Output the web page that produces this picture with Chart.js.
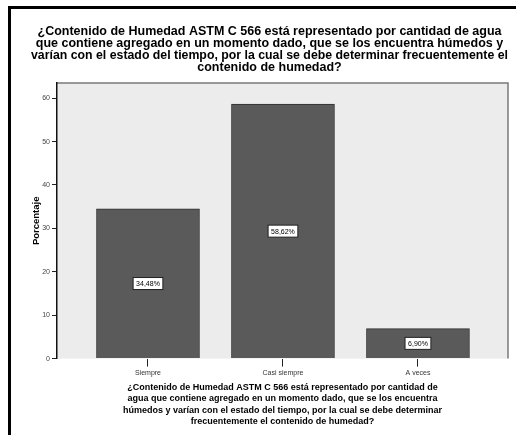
<!DOCTYPE html>
<html>
<head>
<meta charset="utf-8">
<script src="https://cdn.jsdelivr.net/npm/chart.js@4/dist/chart.umd.min.js"></script>
<style>
  body { margin: 0; background: #fff; }
  #wrap { position: relative; width: 516px; height: 435px; overflow: hidden; }
  #frame { position: absolute; left: 8px; top: 6px; width: 530px; height: 450px;
           border-left: 3px solid #000; border-top: 3px solid #000; }
  canvas { position: absolute; left: 0; top: 0; }
</style>
</head>
<body>
<div id="wrap">
  <div id="frame"></div>
  <canvas id="myChart" width="516" height="435"></canvas>
</div>
<script>
// data
const categories = ['Siempre', 'Casi siempre', 'A veces'];
const percentages = [34.48, 58.62, 6.90];
const barLabels = ['34,48%', '58,62%', '6,90%'];
const yTicks = [0, 10, 20, 30, 40, 50, 60];

const titleLines = [
  '¿Contenido de Humedad ASTM C 566 está representado por cantidad de agua',
  'que contiene agregado en un momento dado, que se los encuentra húmedos y',
  'varían con el estado del tiempo, por la cual se debe determinar frecuentemente el',
  'contenido de humedad?'
];
const xTitleLines = [
  '¿Contenido de Humedad ASTM C 566 está representado por cantidad de',
  'agua que contiene agregado en un momento dado, que se los encuentra',
  'húmedos y varían con el estado del tiempo, por la cual se debe determinar',
  'frecuentemente el contenido de humedad?'
];

const plotBg = {
  id: 'plotBg',
  beforeDraw(chart) {
    const a = chart.chartArea, c = chart.ctx;
    c.save();
    c.fillStyle = '#ececec';
    c.fillRect(a.left, a.top, a.right - a.left, a.bottom - a.top);
    c.strokeStyle = '#7a7a7a';
    c.lineWidth = 1.5;
    c.beginPath();
    c.moveTo(a.left, a.top);
    c.lineTo(a.right, a.top);
    c.lineTo(a.right, a.bottom);
    c.stroke();
    c.restore();
  }
};

const boxLabels = {
  id: 'boxLabels',
  afterDatasetsDraw(chart) {
    const c = chart.ctx;
    const meta = chart.getDatasetMeta(0);
    c.save();
    c.font = '7px "Liberation Sans", Arial, sans-serif';
    c.textAlign = 'center';
    c.textBaseline = 'middle';
    meta.data.forEach((bar, i) => {
      const y = (bar.y + bar.base) / 2;
      const w = c.measureText(barLabels[i]).width + 6;
      c.fillStyle = '#fff';
      c.fillRect(bar.x - w / 2, y - 6, w, 12);
      c.strokeStyle = '#222';
      c.lineWidth = 1;
      c.strokeRect(bar.x - w / 2, y - 6, w, 12);
      c.fillStyle = '#000';
      c.fillText(barLabels[i], bar.x, y + 0.5);
    });
    c.restore();
  }
};

let ctx = document.getElementById('myChart');

var myBarChart = new Chart(ctx, {
  type: 'bar',
  data: {
    datasets: [{
      data: percentages.map((v, i) => ({ x: i, y: v })),
      backgroundColor: '#5a5a5a',
      borderColor: '#2e2e2e',
      borderWidth: 1,
      barThickness: 103
    }]
  },
  options: {
    responsive: false,
    animation: false,
    layout: { padding: { left: 31, right: 8, top: 26, bottom: 8 } },
    plugins: {
      legend: { display: false },
      tooltip: { enabled: false },
      title: {
        display: true,
        text: titleLines,
        color: '#000',
        font: { family: '"Liberation Sans", Arial, sans-serif', size: 12.5, weight: 'bold', lineHeight: 0.94 },
        padding: { top: 0, bottom: 10 }
      }
    },
    scales: {
      x: {
        type: 'linear',
        offset: false,
        min: -0.674,
        max: 2.667,
        afterBuildTicks(scale) { scale.ticks = categories.map((_, i) => ({ value: i })); },
        ticks: {
          callback: v => categories[v],
          color: '#333',
          font: { family: '"Liberation Sans", Arial, sans-serif', size: 7 },
          padding: 2,
          maxRotation: 0
        },
        grid: { offset: false, drawOnChartArea: false, drawTicks: true, tickLength: 8, color: '#222' },
        border: { display: false },
        title: {
          display: true,
          text: xTitleLines,
          color: '#000',
          font: { family: '"Liberation Sans", Arial, sans-serif', size: 9, weight: 'bold', lineHeight: 1.25 },
          padding: { top: 3, bottom: 0 }
        }
      },
      y: {
        min: 0,
        max: 63.5,
        afterBuildTicks(scale) { scale.ticks = yTicks.map(v => ({ value: v })); },
        afterFit(scale) { scale.width = 26; },
        ticks: {
          color: '#444',
          font: { family: '"Liberation Sans", Arial, sans-serif', size: 7 },
          padding: 2
        },
        grid: { drawOnChartArea: false, drawTicks: true, tickLength: 5, color: '#222' },
        border: { display: true, color: '#111', width: 1.5 },
        title: {
          display: true,
          text: 'Porcentaje',
          color: '#000',
          font: { family: '"Liberation Sans", Arial, sans-serif', size: 9.5, weight: 'bold' },
          padding: { top: 0, bottom: 0 }
        }
      }
    }
  },
  plugins: [plotBg, boxLabels]
});
</script>
</body>
</html>
